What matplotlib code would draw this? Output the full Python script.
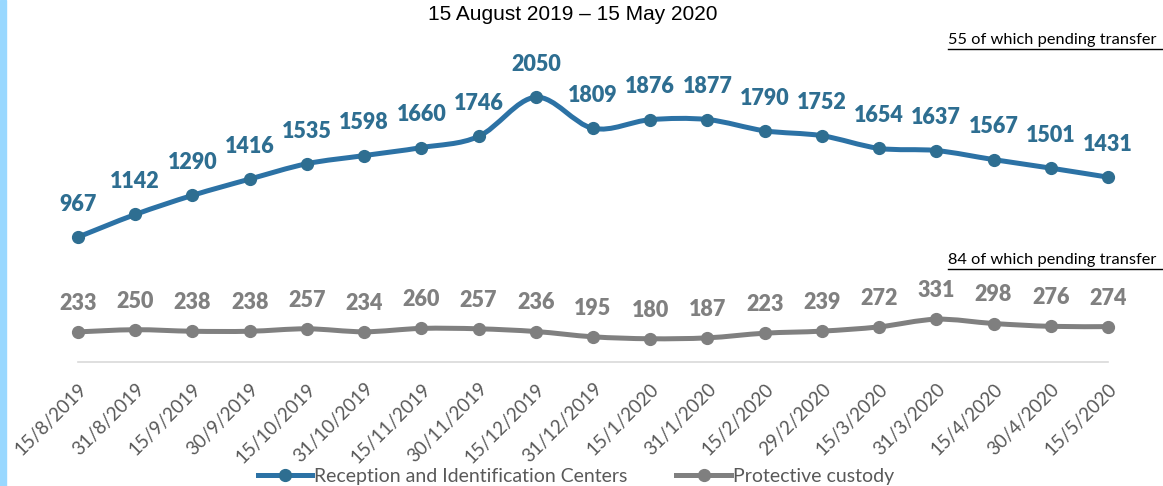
import matplotlib.pyplot as plt
from matplotlib.path import Path
from matplotlib.patches import PathPatch, Rectangle
from matplotlib.lines import Line2D
import numpy as np

dates = ['15/8/2019', '31/8/2019', '15/9/2019', '30/9/2019', '15/10/2019', '31/10/2019',
         '15/11/2019', '30/11/2019', '15/12/2019', '31/12/2019', '15/1/2020', '31/1/2020',
         '15/2/2020', '29/2/2020', '15/3/2020', '31/3/2020', '15/4/2020', '30/4/2020', '15/5/2020']
ric = [967, 1142, 1290, 1416, 1535, 1598, 1660, 1746, 2050, 1809, 1876, 1877,
       1790, 1752, 1654, 1637, 1567, 1501, 1431]
custody = [233, 250, 238, 238, 257, 234, 260, 257, 236, 195, 180, 187,
           223, 239, 272, 331, 298, 276, 274]

blue_line = '#2C72A5'
blue_mark = '#2E6E91'
gray_line = '#808080'
gray_mark = '#7F7F7F'
txt_gray = '#595959'


def smooth_path(xs, ys):
    # excel-style smoothed line: bezier segments, tension 1/6
    pts = np.column_stack([xs, ys]).astype(float)
    n = len(pts)
    verts = [pts[0]]
    codes = [Path.MOVETO]
    for i in range(n - 1):
        p0 = pts[i - 1] if i > 0 else pts[i]
        p1 = pts[i]
        p2 = pts[i + 1]
        p3 = pts[i + 2] if i + 2 < n else pts[i + 1]
        c1 = p1 + (p2 - p0) / 6.0
        c2 = p2 - (p3 - p1) / 6.0
        verts += [c1, c2, p2]
        codes += [Path.CURVE4] * 3
    return Path(verts, codes)


fig = plt.figure(figsize=(11.63, 4.86), dpi=100)
fig.patches.append(Rectangle((0, 0), 6 / 1163, 1, transform=fig.transFigure,
                             color='#99D8FF', zorder=0))

ax = fig.add_axes([78 / 1163, 124 / 486, 1030 / 1163, 310 / 486])
x = np.arange(len(dates))

for vals, lc, mc, off in [(ric, blue_line, blue_mark, 16), (custody, gray_line, gray_mark, 13)]:
    ax.add_patch(PathPatch(smooth_path(x, vals), facecolor='none', edgecolor=lc,
                           lw=3.6, capstyle='round', clip_on=False, zorder=2))
    ax.plot(x, vals, ls='none', marker='o', ms=8.5, color=mc, clip_on=False, zorder=3)
    for xi, v in zip(x, vals):
        ax.annotate(str(v), (xi, v), xytext=(0, off), textcoords='offset points',
                    ha='center', va='bottom', fontsize=15.5, fontweight='heavy',
                    color=mc if lc == blue_line else gray_line, family='Lato')

ax.set_xlim(0, len(dates) - 1)
ax.set_ylim(0, 2400)
for s in ['top', 'left', 'right']:
    ax.spines[s].set_visible(False)
ax.spines['bottom'].set_color('#D9D9D9')
ax.spines['bottom'].set_linewidth(1.2)
ax.set_yticks([])
ax.set_xticks(x)
ax.set_xticklabels(dates, rotation=45, ha='right', va='top', rotation_mode='anchor',
                   fontsize=13.5, color=txt_gray, family='Lato')
ax.tick_params(axis='x', length=0, pad=13)

fig.text(573 / 1163, 1 - 14 / 486, '15 August 2019 \u2013 15 May 2020', ha='center', va='center',
         fontsize=15, family='Liberation Sans', color='black')

for ypix, t in [(40, '55 of which pending transfer'), (260, '84 of which pending transfer')]:
    fig.text(948 / 1163, 1 - ypix / 486, t, ha='left', va='center', fontsize=11.8,
             family='Lato', color='black')
    fig.add_artist(Line2D([948 / 1163, 1], [1 - (ypix + 9) / 486] * 2, color='black', lw=1))

handles = [Line2D([], [], color=blue_line, lw=3.6, marker='o', ms=8.5, mfc=blue_mark, mec=blue_mark),
           Line2D([], [], color=gray_line, lw=3.6, marker='o', ms=8.5, mfc=gray_mark, mec=gray_mark)]
fig.legend(handles, ['Reception and Identification Centers', 'Protective custody'],
           loc='center', bbox_to_anchor=(576 / 1163, 1 - 476 / 486), ncol=2, frameon=False,
           prop={'family': 'Lato', 'size': 14}, labelcolor=txt_gray, handlelength=2.8,
           handletextpad=0.1, columnspacing=2.5)

fig.savefig('out.png', dpi=100)
